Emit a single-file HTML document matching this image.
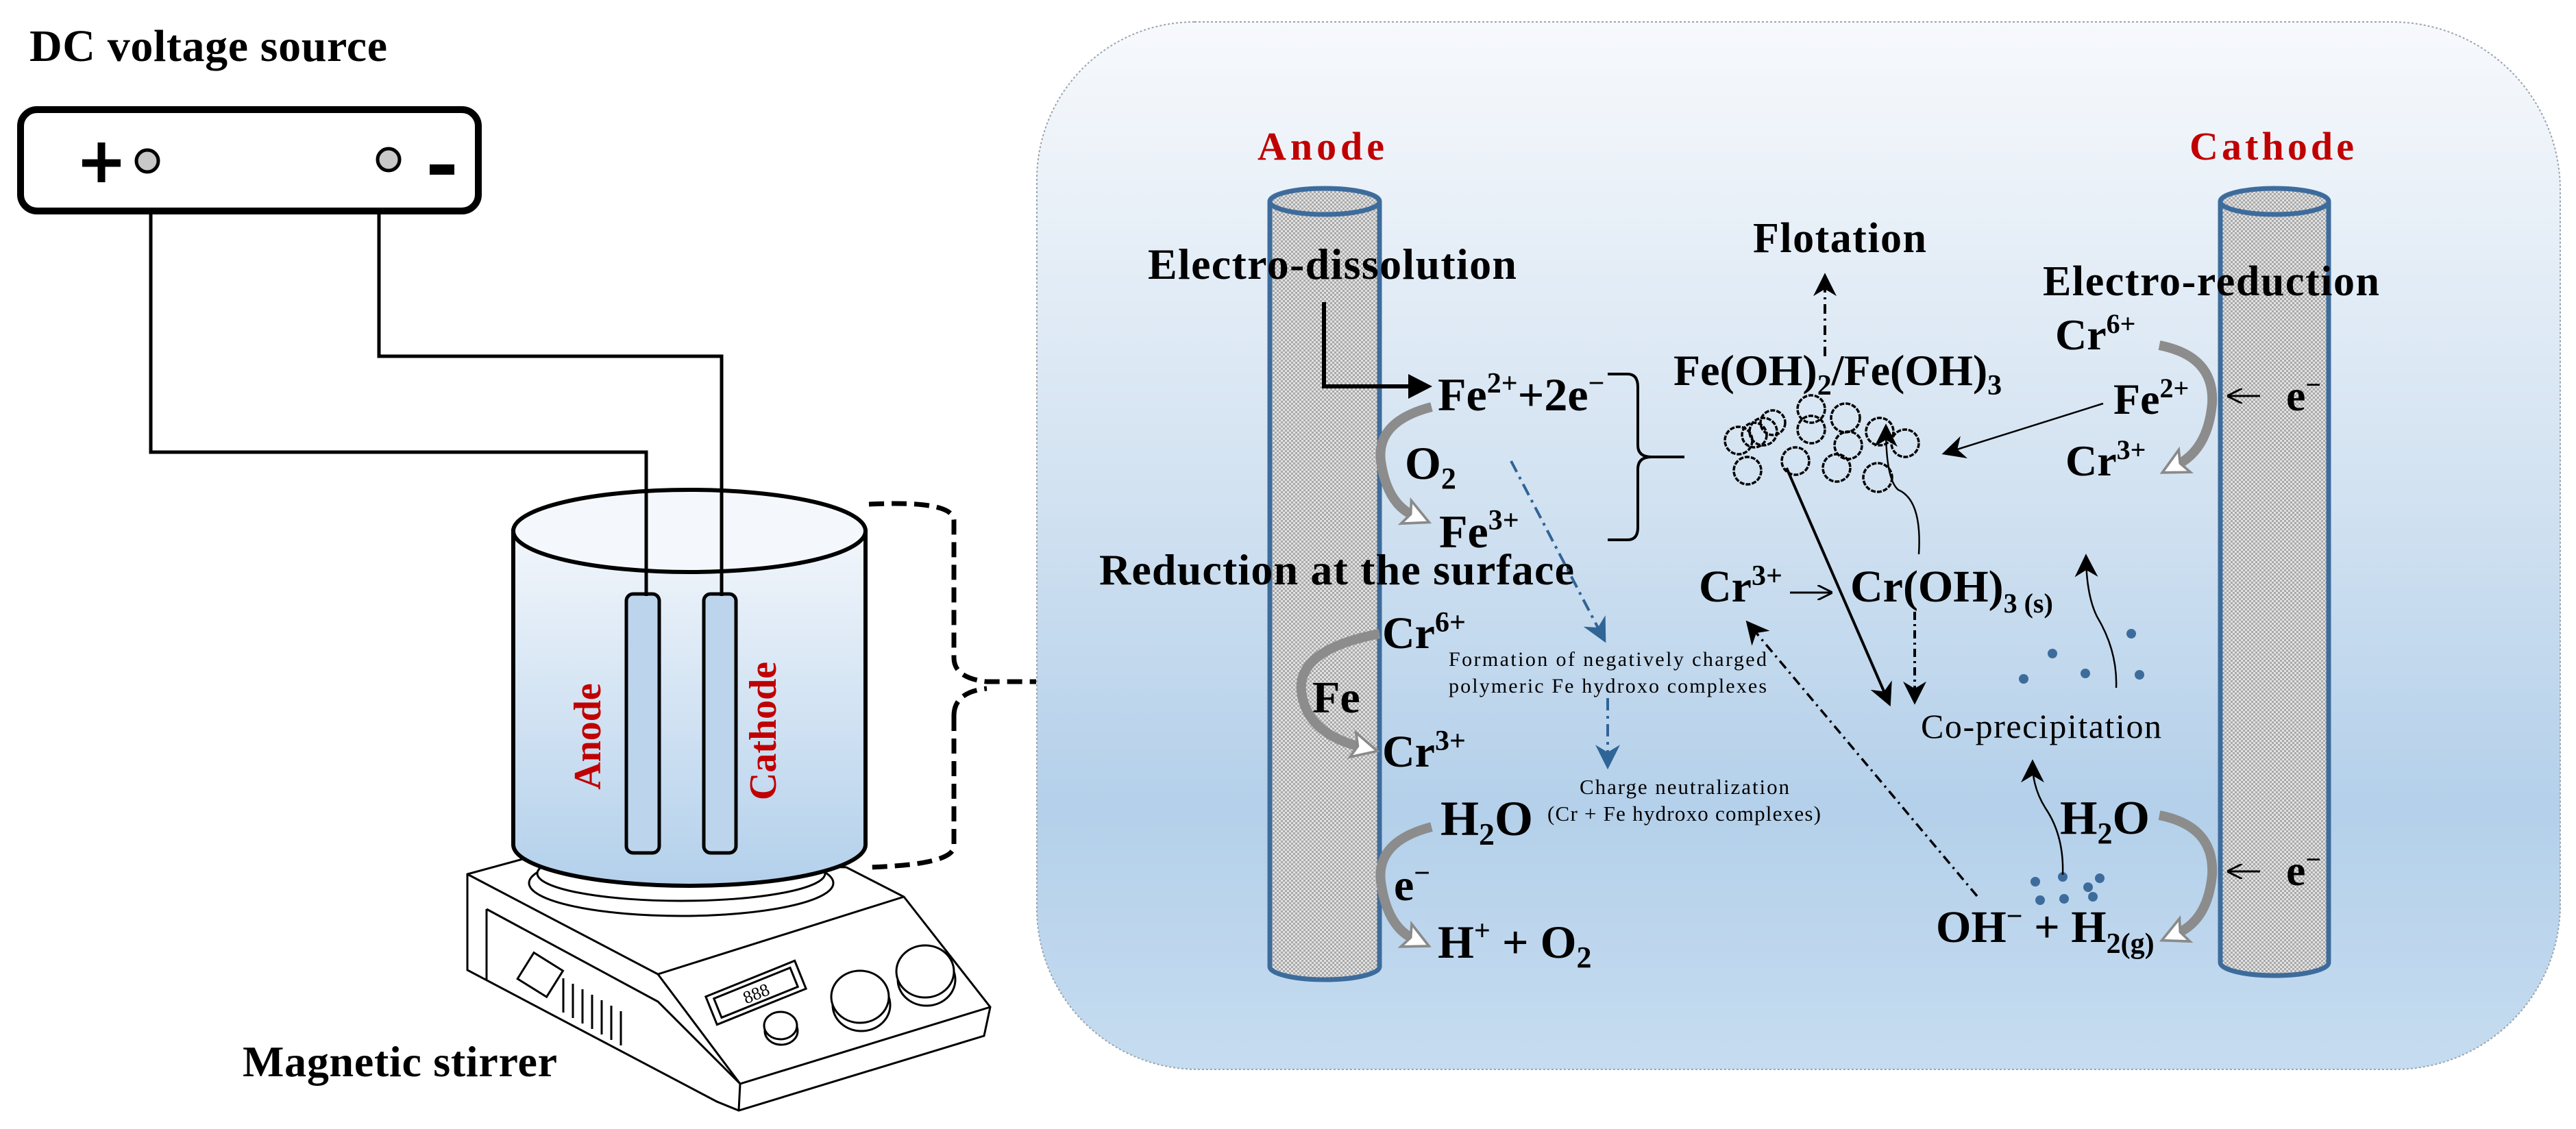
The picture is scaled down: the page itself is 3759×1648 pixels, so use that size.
<!DOCTYPE html>
<html><head><meta charset="utf-8"><style>
html,body{margin:0;padding:0;background:#fff;}
svg{display:block;}
text{font-family:"Liberation Serif",serif;font-weight:bold;fill:#000;}
</style></head><body>
<svg width="3759" height="1648" viewBox="0 0 3759 1648" xmlns="http://www.w3.org/2000/svg">
<defs>
<linearGradient id="pg" x1="0" y1="0" x2="0" y2="1">
<stop offset="0" stop-color="#f7f9fc"/><stop offset="0.45" stop-color="#d2e2f1"/><stop offset="0.75" stop-color="#b4d0ea"/><stop offset="1" stop-color="#c6dcf0"/></linearGradient>
<linearGradient id="bg" x1="0" y1="0" x2="0" y2="1">
<stop offset="0" stop-color="#f2f6fb"/><stop offset="1" stop-color="#b3d0eb"/></linearGradient>
<pattern id="hatch" width="6" height="6" patternUnits="userSpaceOnUse">
<rect width="6" height="6" fill="#e2e2e2"/><rect width="3" height="3" fill="#a9a9a9"/><rect x="3" y="3" width="3" height="3" fill="#a9a9a9"/></pattern>
<marker id="ah" viewBox="0 0 10 10" refX="8" refY="5" markerWidth="10" markerHeight="10" markerUnits="userSpaceOnUse" orient="auto"><path d="M0,0 L10,5 L0,10 L3,5 Z" fill="#000"/></marker>
<marker id="ahb" viewBox="0 0 10 10" refX="8" refY="5" markerWidth="34" markerHeight="34" markerUnits="userSpaceOnUse" orient="auto"><path d="M0,0 L10,5 L0,10 L3,5 Z" fill="#000"/></marker>
<marker id="ahblue" viewBox="0 0 10 10" refX="8" refY="5" markerWidth="36" markerHeight="36" markerUnits="userSpaceOnUse" orient="auto"><path d="M0,0 L10,5 L0,10 L3,5 Z" fill="#2f6496"/></marker>
<marker id="ahg" viewBox="0 0 12 12" refX="4" refY="6" markerWidth="44" markerHeight="44" markerUnits="userSpaceOnUse" orient="auto"><path d="M1,1 L11,6 L1,11 L3,6 Z" fill="#fff" stroke="#8a8a8a" stroke-width="1"/></marker>
<marker id="ahl" viewBox="0 0 10 10" refX="9" refY="5" markerWidth="22" markerHeight="22" markerUnits="userSpaceOnUse" orient="auto"><path d="M0,0 L10,5 L0,10" fill="none" stroke="#000" stroke-width="1.3"/></marker>
</defs>

<!-- LEFT -->
<text x="43" y="89" font-size="66" textLength="522">DC voltage source</text>
<rect x="30" y="160" width="668" height="148" rx="24" fill="#fff" stroke="#000" stroke-width="10"/>
<path d="M120,238 h56 M148,208 v58" stroke="#000" stroke-width="11"/>
<circle cx="215" cy="235" r="16" fill="#c8c8c8" stroke="#000" stroke-width="5"/>
<circle cx="567" cy="233" r="16" fill="#c8c8c8" stroke="#000" stroke-width="5"/>
<rect x="627" y="240" width="36" height="15" fill="#000"/>
<path d="M220,308 V660 H943 V870 M553,308 V520 H1053 V870" fill="none" stroke="#000" stroke-width="5"/>

<!-- stirrer -->
<g fill="#fff" stroke="#000" stroke-width="3">
<path d="M682,1276 L770,1252 L1235,1266 L1319,1309 L1445,1470 L1436,1512 L1078,1621 L1046,1608 L682,1416 Z"/>
<path d="M682,1276 L960,1422 L1319,1309 M960,1422 L1080,1582 L1445,1470 M1080,1582 L1078,1621 M682,1276 L682,1416"/>
<path d="M710,1327 L960,1462 L1080,1582 M710,1327 V1430"/>
<ellipse cx="994" cy="1289" rx="222" ry="48"/>
<ellipse cx="994" cy="1275" rx="210" ry="40"/>
<g transform="translate(1103,1449) rotate(-22)"><rect x="-70" y="-22" width="140" height="44"/><rect x="-60" y="-15" width="120" height="30"/><text x="0" y="10" font-size="26" text-anchor="middle" style="font-weight:normal" stroke="none">888</text></g>
<ellipse cx="1257" cy="1467" rx="42" ry="38"/><ellipse cx="1255" cy="1455" rx="42" ry="38"/>
<ellipse cx="1352" cy="1430" rx="42" ry="38"/><ellipse cx="1350" cy="1418" rx="42" ry="38"/>
<ellipse cx="1140" cy="1505" rx="24" ry="20"/><ellipse cx="1139" cy="1497" rx="24" ry="20"/>
<g transform="translate(787,1425) rotate(32)"><rect x="-25" y="-25" width="50" height="45"/></g>
<path d="M822,1428 v50 M836,1436 v50 M850,1444 v50 M864,1452 v50 M878,1460 v50 M892,1468 v50 M906,1476 v50" stroke-width="3"/>
</g>

<!-- beaker -->
<path d="M749,775 V1233 A257,60 0 0 0 1263,1233 V775 Z" fill="url(#bg)" stroke="#000" stroke-width="6"/>
<ellipse cx="1006" cy="775" rx="257" ry="60" fill="#f4f8fc" stroke="#000" stroke-width="6"/>
<rect x="914" y="867" width="48" height="378" rx="10" fill="#bcd5ec" stroke="#000" stroke-width="5"/>
<rect x="1027" y="867" width="47" height="378" rx="10" fill="#bcd5ec" stroke="#000" stroke-width="5"/>
<path d="M943,660 V870 M1053,520 V870" stroke="#000" stroke-width="5"/>
<text transform="translate(876,1075) rotate(-90)" font-size="56" fill="#c00000" style="fill:#c00000" text-anchor="middle">Anode</text>
<text transform="translate(1132,1067) rotate(-90)" font-size="56" style="fill:#c00000" text-anchor="middle">Cathode</text>
<path d="M1268,736 Q1392,730 1392,760 V960 Q1392,990 1440,995 H1512 M1392,1045 Q1392,1010 1440,1005 M1392,1045 V1235 Q1392,1262 1268,1266" fill="none" stroke="#000" stroke-width="7" stroke-dasharray="22,11"/>
<text x="354" y="1571" font-size="64" textLength="459">Magnetic stirrer</text>

<!-- PANEL -->
<path d="M1743,32 H3490 A246,246 0 0 1 3736,278 V1320 A241,241 0 0 1 3495,1561 H1748 A235,235 0 0 1 1513,1326 V262 A230,230 0 0 1 1743,32 Z" fill="url(#pg)" stroke="#9aa5b0" stroke-width="2" stroke-dasharray="3,3"/>

<!-- cylinders -->
<g stroke="#3d6c9c" stroke-width="7">
<path d="M1853,294 V1411 A80,19 0 0 0 2013,1411 V294" fill="url(#hatch)"/>
<ellipse cx="1933" cy="294" rx="80" ry="19" fill="url(#hatch)"/>
<path d="M3240,294 V1405 A79,19 0 0 0 3398,1405 V294" fill="url(#hatch)"/>
<ellipse cx="3319" cy="294" rx="79" ry="19" fill="url(#hatch)"/>
</g>
<text x="1835" y="233" font-size="58" style="fill:#c00000" textLength="185">Anode</text>
<text x="3195" y="233" font-size="58" style="fill:#c00000" textLength="240">Cathode</text>

<!-- anode texts -->
<text x="1675" y="407" font-size="64" textLength="538">Electro-dissolution</text>
<path d="M1932,441 V564 H2060" fill="none" stroke="#000" stroke-width="6"/>
<path d="M2055,546 L2090,564 L2055,582 Z" fill="#000"/>
<text x="2098" y="599" font-size="68">Fe<tspan dy="-26" font-size="42">2+</tspan><tspan dy="26">+2e</tspan><tspan dy="-26" font-size="42">−</tspan></text>
<text x="2050" y="699" font-size="68">O<tspan dy="14" font-size="44">2</tspan></text>
<text x="2100" y="799" font-size="68">Fe<tspan dy="-26" font-size="42">3+</tspan></text>
<text x="1604" y="853" font-size="64" textLength="693">Reduction at the surface</text>
<text x="2017" y="946" font-size="66">Cr<tspan dy="-24" font-size="42">6+</tspan></text>
<text x="1915" y="1040" font-size="66">Fe</text>
<text x="2017" y="1119" font-size="66">Cr<tspan dy="-24" font-size="42">3+</tspan></text>
<text x="2102" y="1219" font-size="72">H<tspan dy="14" font-size="46">2</tspan><tspan dy="-14">O</tspan></text>
<text x="2034" y="1314" font-size="66">e<tspan dy="-26" font-size="42">−</tspan></text>
<text x="2098" y="1398" font-size="68">H<tspan dy="-26" font-size="42">+</tspan><tspan dy="26"> + O</tspan><tspan dy="14" font-size="44">2</tspan></text>

<g fill="none" stroke="#8c8c8c" stroke-width="14">
<path d="M2089,594 Q2008,615 2015,673 Q2024,735 2062,752" marker-end="url(#ahg)"/>
<path d="M2013,925 Q1893,948 1899,1009 Q1906,1070 1985,1090" marker-end="url(#ahg)"/>
<path d="M2089,1207 Q2008,1228 2015,1287 Q2024,1352 2062,1370" marker-end="url(#ahg)"/>
<path d="M3151,504 Q3232,520 3228,589 Q3222,655 3178,678" marker-end="url(#ahg)"/>
<path d="M3151,1190 Q3232,1206 3228,1277 Q3222,1342 3178,1362" marker-end="url(#ahg)"/>
</g>

<!-- brace -->
<path d="M2346,546 H2375 Q2390,546 2390,565 V650 Q2390,667 2410,667 H2458 M2410,667 Q2390,667 2390,685 V770 Q2390,788 2375,788 H2346" fill="none" stroke="#000" stroke-width="4"/>

<!-- blue dashdot arrows -->
<path d="M2205,673 L2340,932" stroke="#2f6496" stroke-width="4" stroke-dasharray="18,8,4,8" fill="none" marker-end="url(#ahblue)"/>
<path d="M2346,1019 V1116" stroke="#2f6496" stroke-width="4" stroke-dasharray="18,8,4,8" fill="none" marker-end="url(#ahblue)"/>
<g style="font-weight:normal">
<text x="2114" y="972" font-size="30" textLength="464" style="font-weight:normal">Formation  of negatively charged</text>
<text x="2114" y="1011" font-size="30" textLength="464" style="font-weight:normal">polymeric   Fe hydroxo complexes</text>
<text x="2305" y="1159" font-size="31" textLength="306" style="font-weight:normal">Charge neutralization</text>
<text x="2258" y="1198" font-size="31" textLength="399" style="font-weight:normal">(Cr + Fe hydroxo complexes)</text>
<text x="2803" y="1077" font-size="50" textLength="351" style="font-weight:normal">Co-precipitation</text>
</g>

<!-- middle -->
<text x="2558" y="368" font-size="62" textLength="253">Flotation</text>
<path d="M2663,520 V405" stroke="#000" stroke-width="4" stroke-dasharray="14,7,3,7" marker-end="url(#ahb)"/>
<text x="2442" y="562" font-size="64">Fe(OH)<tspan dy="14" font-size="42">2</tspan><tspan dy="-14">/Fe(OH)</tspan><tspan dy="14" font-size="42">3</tspan></text>
<g fill="none" stroke="#000" stroke-width="3.5" stroke-dasharray="7,2">
<circle cx="2537" cy="643" r="20"/><circle cx="2550" cy="687" r="20"/><circle cx="2560" cy="635" r="18"/><circle cx="2573" cy="630" r="20"/><circle cx="2587" cy="617" r="18"/><circle cx="2643" cy="597" r="20"/><circle cx="2643" cy="627" r="20"/><circle cx="2620" cy="673" r="20"/><circle cx="2693" cy="610" r="21"/><circle cx="2697" cy="650" r="20"/><circle cx="2680" cy="683" r="20"/><circle cx="2743" cy="630" r="20"/><circle cx="2780" cy="647" r="20"/><circle cx="2740" cy="697" r="21"/>
</g>
<path d="M2607,683 L2756,1025" stroke="#000" stroke-width="4" marker-end="url(#ahb)"/>
<path d="M2800,809 Q2805,730 2770,715 Q2752,700 2752,625" fill="none" stroke="#000" stroke-width="2.5" marker-end="url(#ahb)"/>
<path d="M3069,589 L2840,661" stroke="#000" stroke-width="2.5" marker-end="url(#ahb)"/>
<text x="2479" y="878" font-size="66">Cr<tspan dy="-24" font-size="42">3+</tspan></text>
<path d="M2612,865 H2672" stroke="#000" stroke-width="3" marker-end="url(#ahl)"/>
<text x="2700" y="878" font-size="66">Cr(OH)<tspan dy="16" font-size="40">3 (s)</tspan></text>
<path d="M2794,893 V1022" stroke="#000" stroke-width="4" stroke-dasharray="12,6,3,6" marker-end="url(#ahb)"/>
<path d="M2885,1308 L2552,911" stroke="#000" stroke-width="3.5" stroke-dasharray="14,7,3,7" marker-end="url(#ahb)"/>

<!-- cathode side -->
<text x="2981" y="431" font-size="62" textLength="491">Electro-reduction</text>
<text x="2999" y="510" font-size="64">Cr<tspan dy="-24" font-size="40">6+</tspan></text>
<text x="3084" y="604" font-size="64">Fe<tspan dy="-24" font-size="40">2+</tspan></text>
<text x="3014" y="694" font-size="64">Cr<tspan dy="-24" font-size="40">3+</tspan></text>
<path d="M3298,578 H3252" stroke="#000" stroke-width="3" marker-end="url(#ahl)"/>
<text x="3336" y="599" font-size="64">e<tspan dy="-24" font-size="40">−</tspan></text>
<path d="M3298,1272 H3252" stroke="#000" stroke-width="3" marker-end="url(#ahl)"/>
<text x="3336" y="1292" font-size="64">e<tspan dy="-24" font-size="40">−</tspan></text>

<g fill="#3d6c9c">
<circle cx="2995" cy="954" r="7"/><circle cx="2953" cy="991" r="7"/><circle cx="3043" cy="983" r="7"/><circle cx="3110" cy="925" r="7"/><circle cx="3122" cy="985" r="7"/>
<circle cx="2970" cy="1287" r="7"/><circle cx="2977" cy="1314" r="7"/><circle cx="3010" cy="1280" r="7"/><circle cx="3012" cy="1312" r="7"/><circle cx="3047" cy="1295" r="7"/><circle cx="3054" cy="1309" r="7"/><circle cx="3064" cy="1282" r="7"/>
</g>
<path d="M3088,1004 Q3090,950 3060,900 Q3045,870 3044,815" fill="none" stroke="#000" stroke-width="2.5" marker-end="url(#ahb)"/>
<path d="M3010,1277 Q3012,1220 2985,1180 Q2966,1150 2966,1115" fill="none" stroke="#000" stroke-width="2.5" marker-end="url(#ahb)"/>
<text x="3006" y="1217" font-size="70">H<tspan dy="14" font-size="44">2</tspan><tspan dy="-14">O</tspan></text>
<text x="2825" y="1375" font-size="66">OH<tspan dy="-24" font-size="42">−</tspan><tspan dy="24"> + H</tspan><tspan dy="16" font-size="42">2(g)</tspan></text>
</svg>
</body></html>
